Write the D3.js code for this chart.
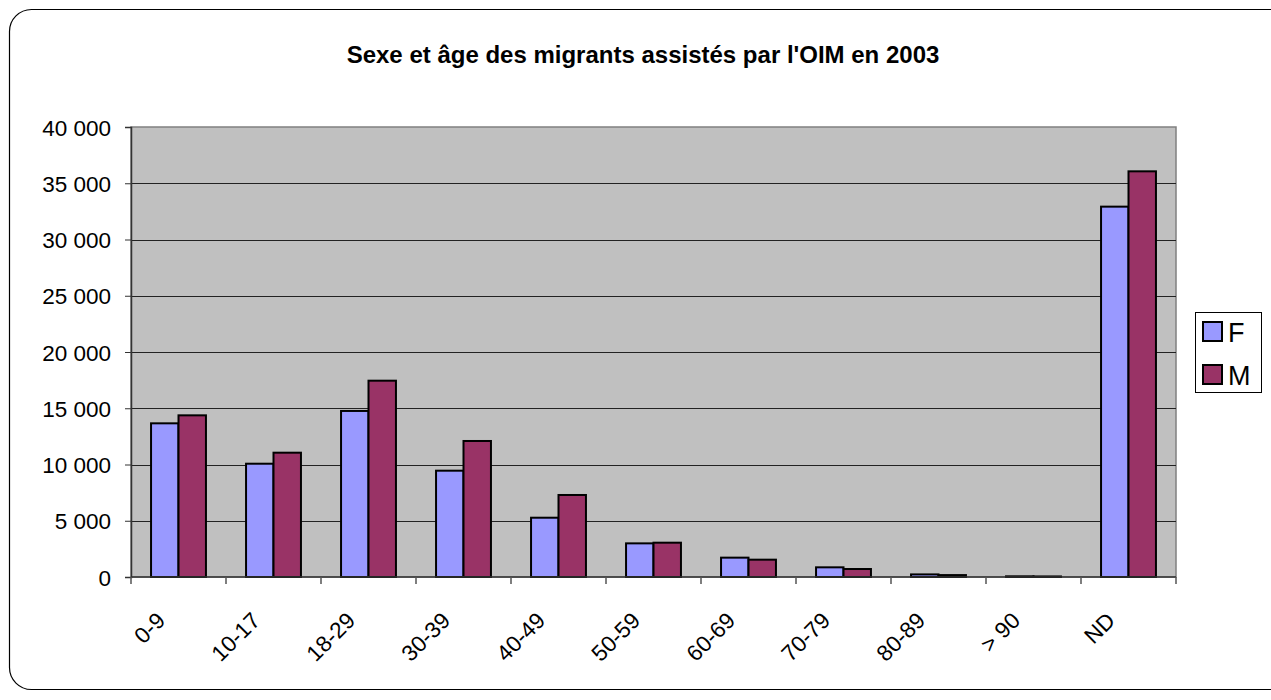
<!DOCTYPE html>
<html>
<head>
<meta charset="utf-8">
<script src="https://cdn.jsdelivr.net/npm/d3@7"></script>
<style>
  html, body { margin: 0; padding: 0; background: #ffffff; }
  svg { display: block; font-family: "Liberation Sans", Arial, sans-serif; }
</style>
</head>
<body>
<svg id="chart" width="1271" height="700"></svg>
<script>
// Age groups and counts of assisted migrants, by sex
const categories = ["0-9", "10-17", "18-29", "30-39", "40-49", "50-59", "60-69", "70-79", "80-89", "> 90", "ND"];
const seriesNames = ["F", "M"];
const femaleValues = [13660, 10070, 14760, 9450, 5270, 2990, 1720, 860, 230, 60, 32920];
const maleValues   = [14370, 11050, 17450, 12090, 7290, 3050, 1540, 710, 170, 50, 36060];
const yTicks = [0, 5000, 10000, 15000, 20000, 25000, 30000, 35000, 40000];
const titleText = "Sexe et âge des migrants assistés par l'OIM en 2003";
const colors = { F: "#9999ff", M: "#993366" };

const svg = d3.select("#chart");

// Outer rounded frame
svg.append("rect")
  .attr("x", 9.5).attr("y", 9.5)
  .attr("width", 1290).attr("height", 680)
  .attr("rx", 22).attr("ry", 22)
  .attr("fill", "#ffffff")
  .attr("stroke", "#000000")
  .attr("stroke-width", 1.2);

// Title
svg.append("text")
  .attr("x", 643).attr("y", 63)
  .attr("text-anchor", "middle")
  .attr("font-size", 24)
  .attr("font-weight", "bold")
  .text(titleText);

const plot = { left: 131, right: 1176, top: 127, bottom: 577 };

const x = d3.scaleBand()
  .domain(categories)
  .range([plot.left, plot.right])
  .paddingInner(0)
  .paddingOuter(0);

const y = d3.scaleLinear()
  .domain([0, 40000])
  .range([plot.bottom, plot.top]);

// Plot background
svg.append("rect")
  .attr("x", plot.left).attr("y", plot.top)
  .attr("width", plot.right - plot.left)
  .attr("height", plot.bottom - plot.top)
  .attr("fill", "#c0c0c0")
  .attr("stroke", "#808080")
  .attr("stroke-width", 1.5);

// Horizontal gridlines
svg.append("g")
  .selectAll("line")
  .data(yTicks.filter(d => d > 0 && d < 40000))
  .join("line")
  .attr("x1", plot.left).attr("x2", plot.right)
  .attr("y1", d => Math.round(y(d)) + 0.5)
  .attr("y2", d => Math.round(y(d)) + 0.5)
  .attr("stroke", "#222222")
  .attr("stroke-width", 1);

// Bars
const inner = d3.scaleBand()
  .domain(seriesNames)
  .range([0, x.bandwidth()])
  .paddingOuter(0.73)
  .paddingInner(0);

const rows = categories.map((c, i) => ({ cat: c, F: femaleValues[i], M: maleValues[i] }));

const groups = svg.append("g")
  .selectAll("g")
  .data(rows)
  .join("g")
  .attr("transform", d => `translate(${x(d.cat)},0)`);

groups.selectAll("rect")
  .data(d => seriesNames.map(s => ({ key: s, value: d[s] })))
  .join("rect")
  .attr("x", d => inner(d.key))
  .attr("width", inner.bandwidth())
  .attr("y", d => y(d.value))
  .attr("height", d => y(0) - y(d.value))
  .attr("fill", d => colors[d.key])
  .attr("stroke", "#000000")
  .attr("stroke-width", 2);

// Y axis
const yAxis = svg.append("g")
  .attr("transform", `translate(${plot.left},0)`)
  .call(d3.axisLeft(y)
    .tickValues(yTicks)
    .tickSize(6)
    .tickPadding(14)
    .tickFormat(d => d3.format(",")(d).replace(/,/g, " ")));
yAxis.select(".domain").attr("stroke", "#333333").attr("stroke-width", 1.5);
yAxis.selectAll(".tick line").attr("stroke", "#333333");
yAxis.selectAll(".tick text")
  .attr("font-size", 22.5)
  .attr("fill", "#000000")
  .attr("font-family", "'Liberation Sans', Arial, sans-serif")
  .attr("dy", "0.36em");

// X axis: ticks on category boundaries, labels rotated
const xAxisG = svg.append("g")
  .attr("transform", `translate(0,${plot.bottom})`);
xAxisG.append("line")
  .attr("x1", plot.left).attr("x2", plot.right)
  .attr("y1", 0).attr("y2", 0)
  .attr("stroke", "#333333").attr("stroke-width", 1.5);
const boundaries = categories.map(c => x(c)).concat([x(categories[categories.length - 1]) + x.bandwidth()]);
xAxisG.selectAll("line.tk")
  .data(boundaries)
  .join("line")
  .attr("class", "tk")
  .attr("x1", d => d).attr("x2", d => d)
  .attr("y1", 0).attr("y2", 7)
  .attr("stroke", "#555555").attr("stroke-width", 1.5);
xAxisG.selectAll("text")
  .data(categories)
  .join("text")
  .attr("transform", d => `translate(${x(d) + x.bandwidth() / 2 - 12},${45}) rotate(-45)`)
  .attr("text-anchor", "end")
  .attr("font-size", 22.5)
  .attr("fill", "#000000")
  .text(d => d);

// Legend
const legend = svg.append("g").attr("transform", "translate(1195,312)");
legend.append("rect")
  .attr("x", 0.5).attr("y", 0.5)
  .attr("width", 66).attr("height", 80)
  .attr("fill", "#ffffff")
  .attr("stroke", "#000000")
  .attr("stroke-width", 1);
const items = legend.selectAll("g.item")
  .data(seriesNames)
  .join("g")
  .attr("class", "item")
  .attr("transform", (d, i) => `translate(8,${10 + i * 43})`);
items.append("rect")
  .attr("width", 19).attr("height", 19)
  .attr("fill", d => colors[d])
  .attr("stroke", "#000000")
  .attr("stroke-width", 2);
items.append("text")
  .attr("x", 25).attr("y", 20)
  .attr("font-size", 27)
  .attr("fill", "#000000")
  .text(d => d);
</script>
</body>
</html>
